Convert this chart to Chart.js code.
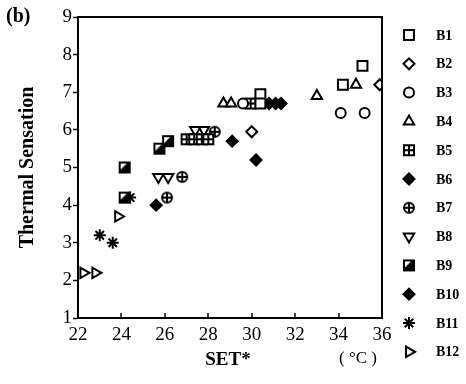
<!DOCTYPE html>
<html>
<head>
<meta charset="utf-8">
<script src="https://cdn.jsdelivr.net/npm/chart.js@4"></script>
<style>
  body { margin: 0; background: #fff; }
</style>
</head>
<body>
<canvas id="tsChart" width="466" height="384"></canvas>
<script>
// SET* (°C) vs thermal sensation, one list of [x, y] per building
const seriesNames = ['B1', 'B2', 'B3', 'B4', 'B5', 'B6', 'B7', 'B8', 'B9', 'B10', 'B11', 'B12'];
const b1 = [[30.4, 6.95], [30.4, 6.7], [34.2, 7.2], [35.1, 7.7]];
const b2 = [[30.0, 5.95], [35.9, 7.2]];
const b3 = [[29.6, 6.7], [34.1, 6.45], [35.2, 6.45]];
const b4 = [[28.7, 6.7], [29.05, 6.7], [33.0, 6.9], [34.8, 7.2]];
const b5 = [[27.0, 5.75], [27.35, 5.75], [27.7, 5.75], [28.0, 5.75], [29.95, 6.7]];
const b6 = [[25.6, 4.0], [29.1, 5.7], [30.8, 6.7]];
const b7 = [[26.1, 4.2], [26.8, 4.75], [28.3, 5.95]];
const b8 = [[25.7, 4.75], [26.15, 4.75], [27.4, 6.0], [27.8, 6.0]];
const b9 = [[24.15, 4.2], [24.15, 5.0], [25.75, 5.5], [26.15, 5.7]];
const b10 = [[30.2, 5.2], [31.1, 6.7], [31.35, 6.7]];
const b11 = [[23.0, 3.2], [23.6, 3.0], [24.4, 4.2]];
const b12 = [[22.25, 2.2], [22.8, 2.2], [23.85, 3.7]];
const xTicks = [22, 24, 26, 28, 30, 32, 34, 36];
const yTicks = [1, 2, 3, 4, 5, 6, 7, 8, 9];

const serif = "'Liberation Serif', 'DejaVu Serif', serif";

function makeMarker(size, draw) {
  const c = document.createElement('canvas');
  c.width = size;
  c.height = size;
  const g = c.getContext('2d');
  g.strokeStyle = '#000';
  g.fillStyle = '#000';
  draw(g);
  return c;
}

// square with a cross inside
const gridSquare = makeMarker(14, g => {
  g.lineWidth = 2;
  g.fillStyle = '#fff';
  g.fillRect(2, 2, 10, 10);
  g.strokeRect(2, 2, 10, 10);
  g.beginPath();
  g.moveTo(7, 2); g.lineTo(7, 12);
  g.moveTo(2, 7); g.lineTo(12, 7);
  g.stroke();
});

// circle with a cross inside
const crossCircle = makeMarker(14, g => {
  g.lineWidth = 2;
  g.beginPath();
  g.arc(7, 7, 5, 0, Math.PI * 2);
  g.fillStyle = '#fff';
  g.fill();
  g.stroke();
  g.beginPath();
  g.moveTo(7, 2); g.lineTo(7, 12);
  g.moveTo(2, 7); g.lineTo(12, 7);
  g.stroke();
});

// black square, white corner
const halfSquare = makeMarker(14, g => {
  g.fillRect(1, 1, 12, 12);
  g.fillStyle = '#fff';
  g.beginPath();
  g.moveTo(3, 3); g.lineTo(9, 3); g.lineTo(3, 9);
  g.closePath();
  g.fill();
});

const styles = [
  { pointStyle: 'rect', radius: 7, fill: '#fff' },
  { pointStyle: 'rectRot', radius: 5.5, fill: '#fff' },
  { pointStyle: 'circle', radius: 5, fill: '#fff' },
  { pointStyle: 'triangle', radius: 6, fill: '#fff' },
  { pointStyle: gridSquare, radius: 6 },
  { pointStyle: 'rectRot', radius: 5.5, fill: '#000' },
  { pointStyle: crossCircle, radius: 6 },
  { pointStyle: 'triangle', radius: 6, fill: '#fff', rotation: 180 },
  { pointStyle: halfSquare, radius: 6 },
  { pointStyle: 'rectRot', radius: 5.5, fill: '#000' },
  { pointStyle: 'star', radius: 6, fill: '#000' },
  { pointStyle: 'triangle', radius: 6, fill: '#fff', rotation: 90 }
];

const allSeries = [b1, b2, b3, b4, b5, b6, b7, b8, b9, b10, b11, b12];

const datasets = allSeries.map((pts, i) => ({
  label: seriesNames[i],
  data: pts.map(p => ({ x: p[0], y: p[1] })),
  pointStyle: styles[i].pointStyle,
  pointRadius: styles[i].radius,
  pointRotation: styles[i].rotation || 0,
  backgroundColor: styles[i].fill || '#000',
  borderColor: '#000',
  borderWidth: 2,
  showLine: false
}));

// frame on top/right, inward x ticks, legend column and loose labels
const extras = {
  id: 'extras',
  afterDraw(chart) {
    const { ctx, chartArea: a } = chart;
    const xs = chart.scales.x;
    ctx.save();
    ctx.strokeStyle = '#000';
    ctx.lineWidth = 2;
    ctx.beginPath();
    ctx.moveTo(a.left, a.top);
    ctx.lineTo(a.right, a.top);
    ctx.lineTo(a.right, a.bottom);
    ctx.stroke();

    ctx.lineWidth = 1.5;
    ctx.beginPath();
    xTicks.forEach(v => {
      const px = Math.round(xs.getPixelForValue(v));
      ctx.moveTo(px, a.bottom);
      ctx.lineTo(px, a.bottom - 5);
    });
    ctx.stroke();

    ctx.fillStyle = '#000';
    ctx.textBaseline = 'middle';
    ctx.font = 'bold 20px ' + serif;
    ctx.textAlign = 'left';
    ctx.fillText('(b)', 6, 17);

    ctx.font = 'bold 19px ' + serif;
    ctx.textAlign = 'center';
    ctx.fillText('SET*', 228, 360);

    ctx.font = '17px ' + serif;
    ctx.fillText('( °C )', 358, 359);

    seriesNames.forEach((name, i) => {
      const y = 35 + i * 28.8;
      const s = styles[i];
      ctx.fillStyle = s.fill || '#000';
      ctx.strokeStyle = '#000';
      ctx.lineWidth = 2;
      Chart.helpers.drawPoint(ctx, {
        pointStyle: s.pointStyle,
        radius: s.radius,
        rotation: s.rotation || 0,
        borderWidth: 2
      }, 409, y);
      ctx.fillStyle = '#000';
      ctx.font = 'bold 14px ' + serif;
      ctx.textAlign = 'left';
      ctx.fillText(name, 436, y + 1);
    });
    ctx.restore();
  }
};

new Chart(document.getElementById('tsChart'), {
  type: 'scatter',
  data: { datasets },
  options: {
    responsive: false,
    animation: false,
    devicePixelRatio: 1,
    layout: { padding: { left: 0, top: 17, right: 84, bottom: 0 } },
    plugins: { legend: { display: false }, tooltip: { enabled: false } },
    scales: {
      x: {
        type: 'linear',
        min: xTicks[0],
        max: xTicks[xTicks.length - 1],
        afterBuildTicks: scale => { scale.ticks = xTicks.map(v => ({ value: v })); },
        afterFit: scale => { scale.height = 66; },
        grid: { display: false, drawTicks: false },
        border: { color: '#000', width: 2 },
        ticks: { color: '#000', font: { family: serif, size: 19 }, padding: 6, maxRotation: 0 }
      },
      y: {
        type: 'linear',
        min: yTicks[0],
        max: yTicks[yTicks.length - 1],
        afterBuildTicks: scale => { scale.ticks = yTicks.map(v => ({ value: v })); },
        afterFit: scale => { scale.width = 78; },
        grid: { display: true, drawOnChartArea: false, drawTicks: true, tickLength: 5, color: '#000', tickWidth: 1.5 },
        border: { color: '#000', width: 2 },
        ticks: { color: '#000', font: { family: serif, size: 19 }, padding: 1 },
        title: {
          display: true,
          text: 'Thermal Sensation',
          color: '#000',
          font: { family: serif, size: 20, weight: 'bold' },
          padding: { top: 16, bottom: 0 }
        }
      }
    }
  },
  plugins: [extras]
});
</script>
</body>
</html>
